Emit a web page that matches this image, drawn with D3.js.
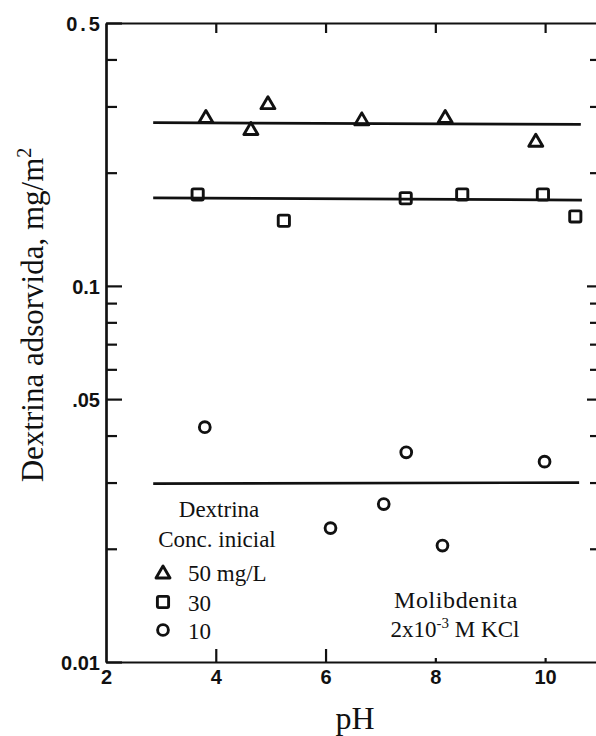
<!DOCTYPE html>
<html>
<head>
<meta charset="utf-8">
<script src="https://cdn.jsdelivr.net/npm/d3@7/dist/d3.min.js"></script>
<style>
  html, body { margin: 0; padding: 0; background: #fff; }
  svg { display: block; }
  .axis text { font-family: "Liberation Sans", Arial, sans-serif; font-weight: bold; font-size: 20px; fill: #111; }
  .axis path, .axis line { stroke: #111; }
  .serif { font-family: "Liberation Serif", "Times New Roman", serif; fill: #111; }
</style>
</head>
<body>
<svg id="chart" width="596" height="736"></svg>
<script>
// Dextrin adsorption on molybdenite vs pH, three initial concentrations

// --- data ---------------------------------------------------------------
const seriesNames = ["50 mg/L", "30", "10"];

const pH50  = [3.82, 4.64, 4.95, 6.66, 8.18, 9.83];
const ads50 = [0.282, 0.262, 0.307, 0.278, 0.282, 0.244];

const pH30  = [3.67, 5.24, 7.46, 8.49, 9.96, 10.55];
const ads30 = [0.175, 0.149, 0.171, 0.175, 0.175, 0.153];

const pH10  = [3.80, 6.09, 7.06, 7.47, 8.13, 9.99];
const ads10 = [0.0421, 0.0227, 0.0263, 0.0361, 0.0204, 0.0341];

// horizontal average lines: [pH start, pH end] and [value start, value end]
const linePH50 = [2.86, 10.65], lineAds50 = [0.2716, 0.2689];
const linePH30 = [2.86, 10.67], lineAds30 = [0.1715, 0.1691];
const linePH10 = [2.86, 10.62], lineAds10 = [0.0298, 0.0300];

const xTicks = [2, 4, 6, 8, 10];
const xTickLabels = ["2", "4", "6", "8", "10"];
const yLabelTicks = [0.5, 0.1, 0.05, 0.01];
const yTickLabels = ["0.5", "0.1", ".05", "0.01"];
const yMinorTicks = [0.4, 0.3, 0.2, 0.09, 0.08, 0.07, 0.06, 0.04, 0.03, 0.02];

// --- layout -------------------------------------------------------------
const svg = d3.select("#chart");
const plotLeft = 106, plotRight = 600, plotTop = 23, plotBottom = 662;

const x = d3.scaleLinear().domain([2, 11]).range([plotLeft, plotRight]);
const y = d3.scaleLog().domain([0.01, 0.5]).range([plotBottom, plotTop]);

// --- axes (ticks point into the frame) ------------------------------------
function styleAxis(g) {
  g.attr("class", "axis");
  g.select(".domain").attr("stroke-width", 2.2);
  g.selectAll(".tick line").attr("stroke-width", 2.2);
}

// left: labelled ticks
svg.append("g")
  .attr("transform", `translate(${plotLeft},0)`)
  .call(d3.axisLeft(y).tickValues(yLabelTicks)
    .tickFormat((d, i) => yTickLabels[i])
    .tickSizeInner(-16).tickSizeOuter(0).tickPadding(6))
  .call(styleAxis)
  .call(g => g.selectAll(".tick text").attr("dy", "0.36em")
    .style("letter-spacing", d => d === 0.5 ? "3px" : null)
    .attr("dx", d => d === 0.5 ? 3 : null));

// left: minor ticks
svg.append("g")
  .attr("transform", `translate(${plotLeft},0)`)
  .call(d3.axisLeft(y).tickValues(yMinorTicks).tickFormat("")
    .tickSizeInner(-11).tickSizeOuter(0))
  .call(styleAxis);

// right: all ticks, no labels
svg.append("g")
  .attr("transform", `translate(${plotRight},0)`)
  .call(d3.axisRight(y).tickValues(yMinorTicks.concat([0.1, 0.05])).tickFormat("")
    .tickSizeInner(-10).tickSizeOuter(0))
  .call(styleAxis)
  .call(g => g.selectAll(".tick line")
    .attr("x2", d => (d === 0.1 || d === 0.05) ? -13 : -10));

// bottom: labelled
svg.append("g")
  .attr("transform", `translate(0,${plotBottom})`)
  .call(d3.axisBottom(x).tickValues(xTicks)
    .tickFormat((d, i) => xTickLabels[i])
    .tickSizeInner(-12).tickSizeOuter(0).tickPadding(8))
  .call(styleAxis)
  .call(g => g.selectAll(".tick line").attr("y2", d => d === 2 ? 0 : (d < 7 ? -13 : -4)));

// top: ticks only
svg.append("g")
  .attr("transform", `translate(0,${plotTop})`)
  .call(d3.axisTop(x).tickValues(xTicks.slice(1)).tickFormat("")
    .tickSizeInner(-10).tickSizeOuter(0))
  .call(styleAxis);

// --- average lines ------------------------------------------------------
const lines = [
  [linePH50, lineAds50],
  [linePH30, lineAds30],
  [linePH10, lineAds10]
];
const lineGen = d3.line().x(d => x(d[0])).y(d => y(d[1]));
svg.append("g").selectAll("path")
  .data(lines)
  .join("path")
  .attr("d", ([p, a]) => lineGen(p.map((v, i) => [v, a[i]])))
  .attr("fill", "none")
  .attr("stroke", "#111")
  .attr("stroke-width", 2.7);

// --- markers ------------------------------------------------------------
const triPath = "M-7,6L7,6L0,-6Z";
function drawMarker(sel, kind) {
  if (kind === 0) {
    sel.append("path").attr("d", triPath);
  } else if (kind === 1) {
    sel.append("rect").attr("x", -5.6).attr("y", -5.6)
      .attr("width", 11.2).attr("height", 11.2).attr("rx", 1.5);
  } else {
    sel.append("circle").attr("r", 5.4);
  }
  sel.attr("fill", "none").attr("stroke", "#111").attr("stroke-width", 2.9)
     .attr("stroke-linejoin", "round");
}

const series = [
  [pH50, ads50],
  [pH30, ads30],
  [pH10, ads10]
];
series.forEach(([ph, ads], k) => {
  const pts = ph.map((v, i) => [v, ads[i]]);
  svg.append("g").selectAll("g")
    .data(pts)
    .join("g")
    .attr("transform", d => `translate(${x(d[0])},${y(d[1])})`)
    .each(function () { drawMarker(d3.select(this), k); });
});

// --- legend -------------------------------------------------------------
const legend = svg.append("g").attr("class", "serif").style("font-size", "23px");
legend.append("text").attr("x", 219).attr("y", 517).attr("text-anchor", "middle").text("Dextrina");
legend.append("text").attr("x", 217).attr("y", 547).attr("text-anchor", "middle").text("Conc. inicial");
const legendRows = [572, 602, 630];
seriesNames.forEach((name, k) => {
  const g = legend.append("g").attr("transform", `translate(163,${legendRows[k]})`);
  drawMarker(g.append("g"), k);
  legend.append("text").attr("x", 188).attr("y", legendRows[k] + 9).text(name);
});

// --- annotation ---------------------------------------------------------
const note = svg.append("g").attr("class", "serif").style("font-size", "24px");
note.append("text").attr("x", 456).attr("y", 608).attr("text-anchor", "middle")
  .style("letter-spacing", "0.6px").text("Molibdenita");
const kcl = note.append("text").attr("x", 455).attr("y", 637).attr("text-anchor", "middle")
  .style("font-size", "23px");
kcl.append("tspan").text("2x10");
kcl.append("tspan").attr("dy", -9).style("font-size", "15px").text("-3");
kcl.append("tspan").attr("dy", 9).text(" M KCl");

// --- axis titles --------------------------------------------------------
svg.append("text").attr("class", "serif")
  .attr("x", 355).attr("y", 729).attr("text-anchor", "middle")
  .style("font-size", "32px").text("pH");

const yTitle = svg.append("text").attr("class", "serif")
  .attr("transform", "translate(43,315) rotate(-90)")
  .attr("text-anchor", "middle").style("font-size", "31px");
yTitle.append("tspan").text("Dextrina adsorvida, mg/m");
yTitle.append("tspan").attr("dy", -12).style("font-size", "20px").text("2");
</script>
</body>
</html>
